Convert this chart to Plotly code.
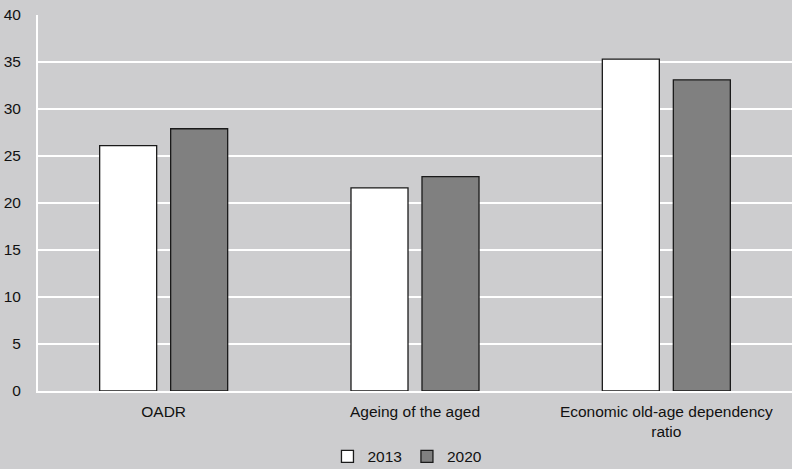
import plotly.graph_objects as go

# Indicator categories and values by year
categories = ["OADR", "Ageing of the aged", "Economic old-age dependency<br>ratio"]
values_2013 = [26.1, 21.6, 35.3]
values_2020 = [27.9, 22.8, 33.1]
years = ["2013", "2020"]
y_ticks = [0, 5, 10, 15, 20, 25, 30, 35, 40]

bg = "#cdcdcf"
fig = go.Figure()
fig.add_trace(go.Bar(
    x=categories, y=values_2013, name=years[0],
    marker=dict(color="#ffffff", line=dict(color="#1a1a1a", width=1.3)),
))
fig.add_trace(go.Bar(
    x=categories, y=values_2020, name=years[1],
    marker=dict(color="#808080", line=dict(color="#1a1a1a", width=1.3)),
))

fig.update_layout(
    width=792, height=469,
    paper_bgcolor=bg, plot_bgcolor=bg,
    margin=dict(l=38, r=0, t=15, b=78, autoexpand=False),
    barmode="group", bargap=0.435, bargroupgap=0.197,
    font=dict(family="Liberation Sans, Arial, sans-serif", size=15.5, color="#111111"),
    showlegend=True,
    legend=dict(orientation="h", x=0.49, xanchor="center",
                yref="container", y=0.026, yanchor="middle",
                font=dict(size=15.5), itemwidth=30, tracegroupgap=0,
                bgcolor="rgba(0,0,0,0)"),
    yaxis=dict(range=[0, 40], tickvals=y_ticks, showgrid=True, gridcolor="#ffffff",
               gridwidth=1.8, showline=True, linecolor="#ffffff", linewidth=2,
               zeroline=False, ticks="", ticklabelstandoff=12, automargin=False),
    xaxis=dict(showgrid=False, showline=True, linecolor="#ffffff", linewidth=2,
               ticks="", zeroline=False, ticklabelstandoff=5, automargin=False),
)

fig.write_html("out.html")
